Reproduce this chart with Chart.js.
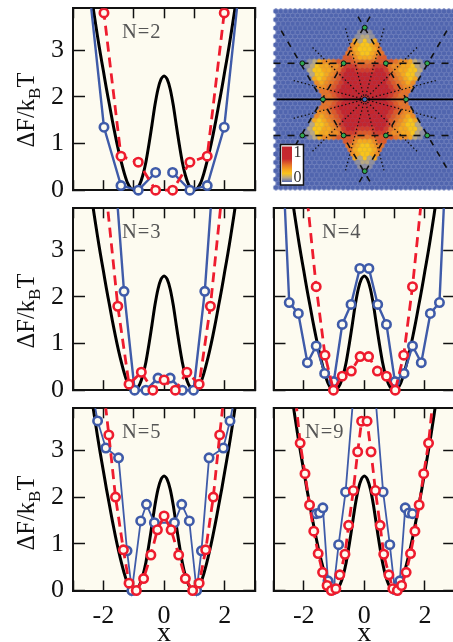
<!DOCTYPE html>
<html>
<head>
<meta charset="utf-8">
<title>Free energy profiles</title>
<script src="https://cdn.jsdelivr.net/npm/chart.js@4/dist/chart.umd.min.js"></script>
<style>
html, body { margin: 0; padding: 0; background: #fff; overflow: hidden; width: 453px; height: 642px; }
canvas { position: absolute; }
.ylab { position: absolute; left: 26px; transform: translate(-50%, -50%) rotate(-90deg); white-space: nowrap;
        font: 24.5px "Liberation Serif", serif; color: #111; line-height: 1; }
.ylab sub { font-size: 17px; line-height: 0; vertical-align: -6px; }
</style>
</head>
<body>
<canvas id="panelN2" width="262" height="197" style="left:0;top:0"></canvas>
<canvas id="panelHeat" width="200" height="197" style="left:262px;top:0"></canvas>
<canvas id="panelN3" width="262" height="197" style="left:0;top:200px"></canvas>
<canvas id="panelN4" width="200" height="197" style="left:262px;top:200px"></canvas>
<canvas id="panelN5" width="262" height="242" style="left:0;top:400px"></canvas>
<canvas id="panelN9" width="200" height="242" style="left:262px;top:400px"></canvas>
<div class="ylab" style="top:110px">&Delta;F/k<sub>B</sub>T</div>
<div class="ylab" style="top:311px">&Delta;F/k<sub>B</sub>T</div>
<div class="ylab" style="top:513px">&Delta;F/k<sub>B</sub>T</div>
<script>
// black reference curve, same in every panel
var curveX = [-2.5, -2.4, -2.3, -2.2, -2.1, -2.0, -1.9, -1.8, -1.7, -1.6, -1.5, -1.4, -1.3, -1.2, -1.1, -1.0, -0.9, -0.8, -0.7, -0.6, -0.5, -0.4, -0.3, -0.2, -0.1, 0,
              0.1, 0.2, 0.3, 0.4, 0.5, 0.6, 0.7, 0.8, 0.9, 1.0, 1.1, 1.2, 1.3, 1.4, 1.5, 1.6, 1.7, 1.8, 1.9, 2.0, 2.1, 2.2, 2.3, 2.4, 2.5];
var curveY = [4.65, 4.2, 3.75, 3.33, 2.93, 2.56, 2.18, 1.83, 1.48, 1.15, 0.85, 0.58, 0.34, 0.15, 0.04, 0, 0.03, 0.13, 0.32, 0.6, 0.98, 1.4, 1.83, 2.17, 2.38, 2.45,
              2.38, 2.17, 1.83, 1.4, 0.98, 0.6, 0.32, 0.13, 0.03, 0, 0.04, 0.15, 0.34, 0.58, 0.85, 1.15, 1.48, 1.83, 2.18, 2.56, 2.93, 3.33, 3.75, 4.2, 4.65];

var blue2X = [-2.55, -1.98, -1.42, -0.85, -0.28, 0, 0.28, 0.85, 1.42, 1.98, 2.55];
var blue2Y = [4.82, 1.35, 0.10, 0, 0.38, null, 0.38, 0, 0.10, 1.35, 4.82];
var red2X = [-2.55, -1.98, -1.42, -0.85, -0.28, 0.28, 0.85, 1.42, 1.98, 2.55];
var red2Y = [9.0, 3.8, 0.73, 0.6, 0, 0, 0.6, 0.73, 3.8, 9.0];

var blue3X = [-1.7, -1.32, -0.97, -0.6, -0.2, 0.2, 0.6, 0.97, 1.34, 1.7];
var blue3Y = [5.4, 2.12, 0, 0, 0.26, 0.26, 0, 0, 2.12, 5.4];
var red3X = [-1.9, -1.525, -1.155, -0.75, -0.37, 0, 0.37, 0.75, 1.155, 1.525, 1.9];
var red3Y = [4.17, 1.8, 0.13, 0.385, 0, 0.22, 0, 0.385, 0.13, 1.8, 4.17];

var blue4X = [-2.77, -2.48, -2.18, -1.88, -1.59, -1.31, -1.01, -0.73, -0.44, -0.15, 0.15, 0.44, 0.73, 1.01, 1.31, 1.59, 1.88, 2.18, 2.48, 2.77];
var blue4Y = [5.98, 1.88, 1.645, 0.59, 0.95, 0.36, 0.185, 1.41, 1.84, 2.61, 2.61, 1.84, 1.41, 0.185, 0.36, 0.95, 0.59, 1.645, 1.88, 5.98];
var red4X = [-1.88, -1.59, -1.30, -1.02, -0.73, -0.43, -0.14, 0.14, 0.43, 0.73, 1.02, 1.30, 1.59, 1.88];
var red4Y = [4.05, 2.22, 0.75, 0, 0.3, 0.41, 0.72, 0.72, 0.41, 0.3, 0, 0.75, 2.22, 4.05];

var blue5X = [-2.4, -2.19, -1.92, -1.50, -1.22, -1.06, -0.77, -0.58, -0.32, 0.34, 0.58, 0.83, 1.07, 1.23, 1.48, 1.95, 2.17, 2.4];
var blue5Y = [4.4, 3.63, 3.05, 2.84, 0.85, 0, 1.49, 1.845, 1.45, 1.45, 1.845, 1.49, 0, 0.85, 2.84, 3.05, 3.63, 4.4];
var red5X = [-2.05, -1.82, -1.60, -1.34, -1.155, -0.915, -0.675, -0.435, -0.22, 0, 0.23, 0.48, 0.70, 0.94, 1.155, 1.37, 1.62, 1.83, 2.05];
var red5Y = [4.64, 3.33, 2.0, 0.87, 0.157, 0, 0.256, 0.76, 1.30, 1.595, 1.30, 0.76, 0.256, 0, 0.157, 0.87, 2.0, 3.33, 4.64];

var blue9X = [-1.59, -1.48, -1.37, -1.20, -1.02, -0.85, -0.62, -0.365, 0.365, 0.62, 0.84, 1.005, 1.17, 1.35, 1.47, 1.59];
var blue9Y = [1.645, 1.66, 1.77, 0.207, 0.02, 0.98, 2.11, 4.15, 4.15, 2.11, 0.98, 0.02, 0.207, 1.77, 1.66, 1.645];
var red9X = [-2.26, -2.12, -1.96, -1.81, -1.67, -1.525, -1.38, -1.23, -1.09, -0.94, -0.81, -0.64, -0.52, -0.365, -0.22, -0.09,
             0.09, 0.22, 0.365, 0.52, 0.64, 0.81, 0.94, 1.09, 1.23, 1.38, 1.525, 1.67, 1.81, 1.96, 2.12, 2.26];
var red9Y = [4.05, 3.155, 2.5, 1.83, 1.27, 0.79, 0.39, 0.107, 0, 0.04, 0.335, 0.776, 1.396, 2.14, 2.97, 3.625,
             3.625, 2.97, 2.14, 1.396, 0.776, 0.335, 0.04, 0, 0.107, 0.39, 0.79, 1.27, 1.83, 2.5, 3.155, 4.05];

// star map: one string per hexagon row, centred on the middle column, digits are colour levels
var heatFirstRow = -16;
var heatRows = [
    "111",
    "1221",
    "42324",
    "543345",
    "6433346",
    "65433456",
    "775444577",
    "124556777766667777655421",
    "1234455688877788865544321",
    "233445689988889986544332",
    "23345689999999998654332",
    "4345679999999999765434",
    "545678999999999876545",
    "55678999999999987655",
    "6678999999999998766",
    "667899999999998766",
    "66789999999998766",
    "667899999999998766",
    "6678999999999998766",
    "55678999999999987655",
    "545678999999999876545",
    "4345679999999999765434",
    "23345689999999998654332",
    "233445689988889986544332",
    "1234455688877788865544321",
    "124556777766667777655421",
    "775444577",
    "65433456",
    "6433346",
    "543345",
    "42324",
    "1221",
    "111"
];
var heatColors = ["#5468b0", "#8f8f9e", "#b8a883", "#f8c41c", "#f5a81f", "#ee8c24", "#e67428", "#dc5a2a", "#d03c2c", "#c4262e"];

// lattice units: one column is 4.8 px, one row 4.2 px
var nodeX = [0, -13, -4.4, 4.4, 13, -8.7, 8.6, -13, -4.4, 4.4, 13, 0];
var nodeY = [-17.1, -8.6, -8.6, -8.6, -8.6, 0, 0, 8.6, 8.6, 8.6, 8.6, 17.1];
var rayEndX = [-4, 4, 10.9, 14.8, 14.8, 10.9, 4, -4, -10.9, -14.8, -14.8, -10.9];
var rayEndY = [-16.9, -16.9, -12.4, -4.5, 4.5, 12.4, 16.9, 16.9, 12.4, 4.5, -4.5, -12.4];
var dashStartX = [-17.4, 17.1, -1.4, 1.1];
var dashStartY = [-16.4, -16.4, -19.7, -19.7];
var dashEndX = [1.5, -1.5, 17.5, -17.4];
var dashEndY = [20.4, 20.4, 17.2, 16.8];

var serif = '"Liberation Serif", serif';
var bgCream = "#fdfbf0";
var axisColor = "#111";
var blueLine = "#3f5ba9";
var redLine = "#ee1c2e";

function toPoints(xs, ys) {
    return xs.map(function (x, i) {
        return { x: x, y: ys[i] };
    });
}

function noPadding(s) {
    s.paddingLeft = 0;
    s.paddingRight = 0;
    s.paddingTop = 0;
    s.paddingBottom = 0;
}

var creamPlugin = {
    id: "cream",
    beforeDraw: function (chart) {
        var a = chart.chartArea;
        chart.ctx.save();
        chart.ctx.fillStyle = bgCream;
        chart.ctx.fillRect(a.left, a.top, a.right - a.left, a.bottom - a.top);
        chart.ctx.restore();
    },
    beforeDatasetsDraw: function (chart, args, opts) {
        var ctx = chart.ctx;
        ctx.save();
        ctx.font = "20.5px " + serif;
        ctx.letterSpacing = "1px";
        ctx.fillStyle = "#555";
        ctx.textBaseline = "middle";
        ctx.fillText(opts.text, opts.x, opts.y);
        ctx.restore();
    }
};

function makePanel(canvasId, note, blueX, blueY, redX, redY, opts) {
    var yBox = opts.left;
    var labelled = opts.bottomRow;
    var data = {
        datasets: [
            { data: toPoints(curveX, curveY), borderColor: "#000", borderWidth: 3, pointRadius: 0, tension: 0.25, order: 3 },
            { data: toPoints(blueX, blueY), borderColor: blueLine, borderWidth: opts.blueWidth, pointRadius: 4.2, pointBorderWidth: 2.6,
              pointBorderColor: blueLine, pointBackgroundColor: bgCream, order: 2 },
            { data: toPoints(redX, redY), borderColor: redLine, borderWidth: 2.8, borderDash: [10, 6], pointRadius: 4.2, pointBorderWidth: 2.6,
              pointBorderColor: redLine, pointBackgroundColor: bgCream, order: 1 }
        ]
    };
    data.datasets.forEach(function (d) {
        d.showLine = true;
        d.spanGaps = false;
        d.clip = { left: 0, top: 0, right: 0, bottom: 7 };
    });

    var axisBorder = { display: true, color: axisColor, width: 2 };
    var scales = {
        x: {
            type: "linear", position: "bottom", min: -3, max: 3, border: axisBorder,
            grid: { drawOnChartArea: false, tickLength: -10, tickColor: axisColor, tickWidth: 1.5 },
            ticks: {
                stepSize: 1, autoSkip: false, maxRotation: 0, display: labelled, padding: 20, color: "#111",
                font: { family: serif, size: 26 },
                callback: function (v) {
                    return (v === -2 || v === 0 || v === 2) ? String(v) : "";
                }
            },
            title: { display: labelled, text: "x", color: "#111", font: { family: serif, size: 28 }, padding: { top: 0, bottom: -8 } },
            afterFit: function (s) { s.height = labelled ? 51.5 : 6.5; noPadding(s); }
        },
        x2: {
            type: "linear", position: "top", min: -3, max: 3, border: axisBorder,
            grid: { drawOnChartArea: false, tickLength: -10, tickColor: axisColor, tickWidth: 1.5 },
            ticks: { stepSize: 1, display: false },
            afterFit: function (s) { s.height = 0; noPadding(s); }
        },
        y: {
            type: "linear", position: "left", min: 0, max: 3.9, border: axisBorder,
            grid: { drawOnChartArea: false, tickLength: -12, tickColor: axisColor, tickWidth: 1.5 },
            ticks: {
                stepSize: 1, includeBounds: false, display: yBox > 20, padding: 21, color: "#111",
                font: { family: serif, size: 26 }
            },
            afterFit: function (s) { s.width = yBox; noPadding(s); }
        },
        y2: {
            type: "linear", position: "right", min: 0, max: 3.9, border: axisBorder,
            grid: { drawOnChartArea: false, tickLength: -12, tickColor: axisColor, tickWidth: 1.5 },
            ticks: { stepSize: 1, includeBounds: false, display: false },
            afterFit: function (s) { s.width = 0; noPadding(s); }
        }
    };

    return new Chart(document.getElementById(canvasId), {
        type: "scatter",
        data: data,
        options: {
            responsive: false,
            animation: false,
            layout: { padding: { left: 0, right: 6, top: 8.3, bottom: 0 } },
            scales: scales,
            plugins: {
                legend: { display: false },
                tooltip: { enabled: false },
                cream: { text: note, x: opts.noteX, y: 33 }
            }
        },
        plugins: [creamPlugin]
    });
}

// pointy-top hexagon sprite used as the point style of a colour level
function hexSprite(color, level) {
    var c = document.createElement("canvas");
    c.width = 8;
    c.height = 8;
    var ctx = c.getContext("2d");
    ctx.fillStyle = color;
    ctx.beginPath();
    for (var k = 0; k < 6; k++) {
        var ang = Math.PI / 6 + k * Math.PI / 3;
        ctx.lineTo(4 + 3.05 * Math.cos(ang), 4 + 3.05 * Math.sin(ang));
    }
    ctx.closePath();
    ctx.fill();
    if (level === 0) {
        ctx.fillStyle = "#5065ae";
        ctx.beginPath();
        ctx.arc(4, 4, 1.5, 0, 2 * Math.PI);
        ctx.fill();
    }
    return c;
}

function heatCells() {
    var cells = heatColors.map(function () { return []; });
    for (var r = -21; r <= 21; r++) {
        var half = (r % 2 === 0) ? 18 : 18.5;
        for (var x = -half; x <= half; x++) {
            cells[0].push({ x: x, y: r });
        }
    }
    heatRows.forEach(function (row, idx) {
        for (var i = 0; i < row.length; i++) {
            cells[Number(row[i])].push({ x: i - (row.length - 1) / 2, y: heatFirstRow + idx });
        }
    });
    return cells;
}

var insetPlugin = {
    id: "inset",
    afterDatasetsDraw: function (chart) {
        var ctx = chart.ctx;
        ctx.save();
        ctx.fillStyle = "#fff";
        ctx.fillRect(18.5, 144.5, 23, 40.5);
        ctx.strokeStyle = "#111";
        ctx.lineWidth = 1.5;
        ctx.strokeRect(18.5, 144.5, 23, 40.5);
        var g = ctx.createLinearGradient(0, 146.5, 0, 182);
        g.addColorStop(0, "#c4262e");
        g.addColorStop(0.35, "#c62a2e");
        g.addColorStop(0.52, "#e67428");
        g.addColorStop(0.66, "#f5a81f");
        g.addColorStop(0.76, "#f8c41c");
        g.addColorStop(0.88, "#b8a883");
        g.addColorStop(1, "#5468b0");
        ctx.fillStyle = g;
        ctx.fillRect(20, 146.5, 10, 35.5);
        ctx.fillStyle = "#333";
        ctx.font = "16px " + serif;
        ctx.textBaseline = "middle";
        ctx.textAlign = "center";
        ctx.fillText("1", 35.5, 153);
        ctx.fillText("0", 35.5, 178);
        ctx.restore();
    }
};

function makeHeat() {
    var cells = heatCells();
    var sets = [];
    cells.forEach(function (list, level) {
        sets.push({ data: list, pointStyle: hexSprite(heatColors[level], level), pointRadius: 3, showLine: false, clip: false, order: level === 0 ? 101 : 100 });
    });
    // dotted spokes from the centre
    rayEndX.forEach(function (ex, i) {
        sets.push({ data: [{ x: 0, y: 0 }, { x: ex, y: rayEndY[i] }], showLine: true, borderColor: "#111", borderWidth: 1.3, borderDash: [1.4, 2.4], pointRadius: 0, clip: false, order: 50 });
    });
    // dashed lattice lines
    dashStartX.forEach(function (sx, i) {
        sets.push({ data: [{ x: sx, y: dashStartY[i] }, { x: dashEndX[i], y: dashEndY[i] }], showLine: true, borderColor: "#111", borderWidth: 1.6, borderDash: [6, 7], pointRadius: 0, clip: false, order: 40 });
    });
    [-8.6, 8.6].forEach(function (yy) {
        sets.push({ data: [{ x: -19, y: yy }, { x: 19, y: yy }], showLine: true, borderColor: "#111", borderWidth: 1.6, borderDash: [7, 7], pointRadius: 0, clip: false, order: 40 });
    });
    sets.push({ data: [{ x: -18.3, y: 0 }, { x: 19, y: 0 }], showLine: true, borderColor: "#000", borderWidth: 1.6, pointRadius: 0, clip: false, order: 30 });
    sets.push({ data: toPoints(nodeX, nodeY), showLine: false, pointRadius: 2.4, pointBorderWidth: 1, pointBorderColor: "#111", pointBackgroundColor: "#2fa84f", clip: false, order: 20 });
    sets.push({ data: [{ x: 0, y: 0 }], showLine: false, pointRadius: 2.4, pointBorderWidth: 1, pointBorderColor: "#111", pointBackgroundColor: "#3f6ab0", clip: false, order: 20 });

    return new Chart(document.getElementById("panelHeat"), {
        type: "scatter",
        data: { datasets: sets },
        options: {
            responsive: false,
            animation: false,
            layout: { padding: { left: 11.5, right: 6, top: 8.3, bottom: 6.5 } },
            scales: {
                x: { type: "linear", min: -19, max: 19, display: false },
                y: { type: "linear", min: -21.7, max: 21.7, reverse: true, display: false }
            },
            plugins: { legend: { display: false }, tooltip: { enabled: false } }
        },
        plugins: [insetPlugin]
    });
}

makePanel("panelN2", "N=2", blue2X, blue2Y, red2X, red2Y, { left: 73, bottomRow: false, blueWidth: 2.4, noteX: 122 });
makeHeat();
makePanel("panelN3", "N=3", blue3X, blue3Y, red3X, red3Y, { left: 73, bottomRow: false, blueWidth: 2.4, noteX: 122 });
makePanel("panelN4", "N=4", blue4X, blue4Y, red4X, red4Y, { left: 11.5, bottomRow: false, blueWidth: 2.4, noteX: 60 });
makePanel("panelN5", "N=5", blue5X, blue5Y, red5X, red5Y, { left: 73, bottomRow: true, blueWidth: 1.8, noteX: 122 });
makePanel("panelN9", "N=9", blue9X, blue9Y, red9X, red9Y, { left: 11.5, bottomRow: true, blueWidth: 1.8, noteX: 43 });
</script>
</body>
</html>
